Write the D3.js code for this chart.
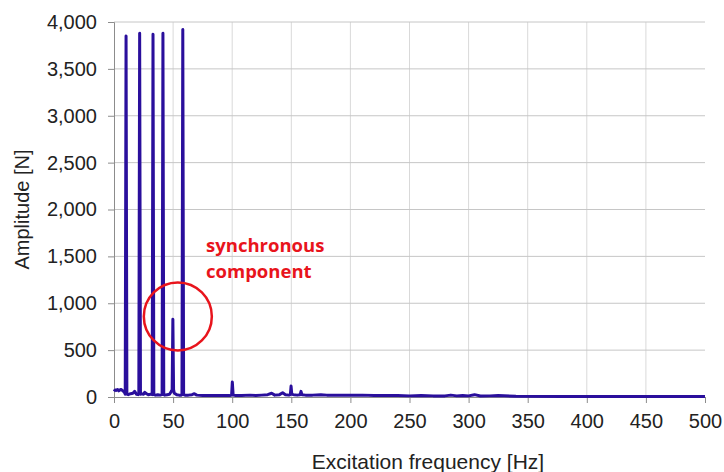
<!DOCTYPE html>
<html lang="en">
<head>
    <meta charset="UTF-8">
    <title>Excitation spectrum</title>
    <script src="https://d3js.org/d3.v7.min.js"></script>
    <style>
        body { margin: 0; background: #fff; }
        svg { display: block; font-family: "Liberation Sans", Arial, sans-serif; }
        .tick text { fill: #222; }
    </style>
</head>
<body>
    <div id="chart"></div>
    <script>
        // Spectrum: frequency [Hz] and amplitude [N]
        var freqHz = [0, 1, 2, 3, 4, 5, 6, 7, 8, 9, 9.5, 10.2, 10.9, 12, 14, 16, 17.5, 19, 20.5, 21, 21.7, 22.4, 23, 25, 26, 27.5, 29, 31, 32.3, 33, 33.7, 35, 37, 39, 40.7, 41.4, 42.1, 43, 45, 47, 48.5, 49.2, 49.8, 50.4, 51, 53, 55, 57, 57.5, 58.2, 58.9, 60, 63, 66, 68, 70, 75, 80, 85, 90, 95, 98, 99.5, 100.1, 100.8, 103, 108, 115, 120, 125, 130, 133.4, 136, 140, 142.7, 145, 148, 149.2, 149.8, 150.4, 152, 155, 157.5, 158.2, 159, 162, 168, 175, 180, 190, 200, 210, 220, 230, 240, 250, 260, 270, 280, 285, 290, 295, 300, 305, 310, 318, 325, 340, 380, 420, 460, 500];
        var amplitudeN = [60, 75, 70, 80, 65, 75, 80, 70, 60, 45, 30, 3850, 30, 25, 35, 40, 60, 30, 25, 30, 3880, 30, 35, 30, 50, 35, 25, 30, 25, 3870, 25, 20, 25, 20, 25, 3880, 25, 20, 25, 30, 60, 80, 830, 80, 40, 25, 20, 20, 25, 3920, 25, 20, 20, 25, 35, 20, 15, 15, 15, 15, 15, 15, 20, 160, 20, 15, 15, 20, 15, 20, 25, 40, 20, 25, 45, 25, 20, 25, 117, 30, 25, 20, 25, 60, 25, 20, 20, 25, 20, 20, 18, 20, 15, 15, 15, 12, 15, 12, 12, 20, 12, 15, 12, 25, 10, 12, 15, 8, 6, 5, 5, 5, 5];

        // Tick values and annotation
        var xTicks = [0, 50, 100, 150, 200, 250, 300, 350, 400, 450, 500];
        var yTicks = [0, 500, 1000, 1500, 2000, 2500, 3000, 3500, 4000];
        var noteLines = ["synchronous", "component"];
        var noteCircle = { hz: 54, n: 860 };

        var width = 724, height = 472;
        var margin = { top: 22, right: 19, bottom: 75, left: 114 };

        var svg = d3.select("#chart").append("svg")
            .attr("width", width)
            .attr("height", height);

        var x = d3.scaleLinear().domain([0, 500]).range([margin.left, width - margin.right]);
        var y = d3.scaleLinear().domain([0, 4000]).range([height - margin.bottom, margin.top]);

        // Gridlines
        svg.append("g")
            .selectAll("line")
            .data(xTicks.filter(d => d > 0 && d < 500))
            .enter().append("line")
            .attr("x1", d => x(d)).attr("x2", d => x(d))
            .attr("y1", y(0)).attr("y2", y(4000))
            .attr("stroke", "#d9d9d9");

        svg.append("g")
            .selectAll("line")
            .data(yTicks.filter(d => d > 0))
            .enter().append("line")
            .attr("x1", x(0)).attr("x2", x(500))
            .attr("y1", d => y(d)).attr("y2", d => y(d))
            .attr("stroke", "#c6c6c6");

        // Axes
        var yAxis = svg.append("g")
            .attr("transform", `translate(${x(0)},0)`)
            .call(d3.axisLeft(y).tickValues(yTicks).tickFormat(d3.format(",")).tickSize(6).tickPadding(11));

        var xAxis = svg.append("g")
            .attr("transform", `translate(0,${y(0)})`)
            .call(d3.axisBottom(x).tickValues(xTicks).tickSize(6).tickPadding(11));

        [xAxis, yAxis].forEach(a => {
            a.select(".domain").attr("stroke", "#8c8c8c");
            a.selectAll(".tick line").attr("stroke", "#8c8c8c");
            a.selectAll(".tick text").style("font-size", "20px").attr("font-family", null);
        });

        // Spectrum line
        var points = freqHz.map((f, i) => [f, amplitudeN[i]]);
        var line = d3.line().x(d => x(d[0])).y(d => y(d[1]));

        svg.append("path")
            .datum(points)
            .attr("d", line)
            .attr("fill", "none")
            .attr("stroke", "#2a0f9c")
            .attr("stroke-width", 3)
            .attr("stroke-linejoin", "round");

        // Annotation
        svg.append("circle")
            .attr("cx", x(noteCircle.hz))
            .attr("cy", y(noteCircle.n))
            .attr("r", 34)
            .attr("fill", "none")
            .attr("stroke", "#e8141c")
            .attr("stroke-width", 2.5);

        svg.append("text")
            .attr("x", 206)
            .attr("y", 252)
            .attr("fill", "#e8141c")
            .style("font-family", "'Open Sans', sans-serif")
            .style("font-weight", "bold")
            .style("font-size", "18.5px")
            .selectAll("tspan")
            .data(noteLines)
            .enter().append("tspan")
            .attr("x", 206)
            .attr("dy", (d, i) => i === 0 ? 0 : 26)
            .text(d => d);

        // Axis titles
        svg.append("text")
            .attr("transform", `translate(29,${(y(0) + y(4000)) / 2}) rotate(-90)`)
            .attr("text-anchor", "middle")
            .attr("fill", "#222")
            .style("font-size", "20px")
            .text("Amplitude [N]");

        svg.append("text")
            .attr("x", 428)
            .attr("y", 469)
            .attr("text-anchor", "middle")
            .attr("fill", "#222")
            .style("font-size", "21px")
            .text("Excitation frequency [Hz]");
    </script>
</body>
</html>
